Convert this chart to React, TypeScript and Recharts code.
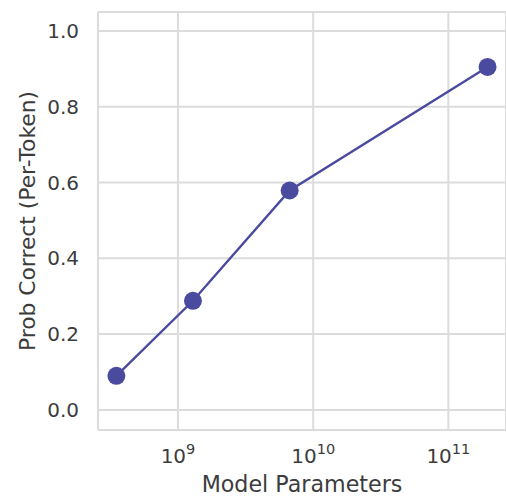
import React from 'react';
import { LineChart, Line, XAxis, YAxis, CartesianGrid, ReferenceLine } from 'recharts';

const modelParams = [3.5e8, 1.29e9, 6.7e9, 1.95e11];
const probCorrect = [0.09, 0.288, 0.579, 0.905];
const xTicks = [1e9, 1e10, 1e11];
const xTickExponents = ['9', '10', '11'];
const yTicks = [0, 0.2, 0.4, 0.6, 0.8, 1.0];

const data = modelParams.map((p, i) => ({ params: p, prob: probCorrect[i] }));

const TEXT = '#3c3c3c';
const GRID = '#dcdcdc';
const LINE = '#4a4a9f';
const FONT = 'DejaVu Sans, sans-serif';

const XTick = (props: any) => {
  const { x, y, payload, index } = props;
  const exp = xTickExponents[xTicks.indexOf(payload.value)] ?? xTickExponents[index];
  return (
    <text x={x} y={y + 33} textAnchor="middle" fill={TEXT} fontFamily={FONT} fontSize={20}>
      <tspan>10</tspan>
      <tspan dy={-9} fontSize={14.5}>{exp}</tspan>
    </text>
  );
};

const XLabel = (props: any) => {
  const { viewBox } = props;
  return (
    <text x={viewBox.x + viewBox.width / 2} y={viewBox.y + 62} textAnchor="middle" fill={TEXT} fontFamily={FONT} fontSize={22.2}>
      Model Parameters
    </text>
  );
};

const YLabel = (props: any) => {
  const { viewBox } = props;
  const cx = viewBox.x + 35;
  const cy = viewBox.y + viewBox.height / 2;
  return (
    <text x={cx} y={cy} transform={`rotate(-90, ${cx}, ${cy})`} textAnchor="middle" fill={TEXT} fontFamily={FONT} fontSize={21.8}>
      Prob Correct (Per-Token)
    </text>
  );
};

export default function App() {
  return (
    <div style={{ position: 'absolute', left: 0, top: 0, width: 506, height: 499, overflow: 'hidden', background: '#fff' }}>
      <LineChart width={506} height={499} data={data} margin={{ top: 12, right: 0, bottom: 0, left: 0 }}>
        <CartesianGrid stroke={GRID} strokeWidth={2} />
        <XAxis
          dataKey="params"
          type="number"
          scale="log"
          domain={[2.56e8, 2.67e11]}
          allowDataOverflow
          ticks={xTicks}
          tick={<XTick />}
          tickLine={false}
          tickSize={0}
          tickMargin={0}
          height={69}
          axisLine={{ stroke: GRID, strokeWidth: 2 }}
          label={<XLabel />}
          interval={0}
        />
        <YAxis
          type="number"
          domain={[-0.053, 1.05]}
          allowDataOverflow
          ticks={yTicks}
          tickFormatter={(v: number) => v.toFixed(1)}
          tick={{ fill: TEXT, fontFamily: FONT, fontSize: 20 }}
          tickLine={false}
          tickSize={0}
          tickMargin={19}
          width={98}
          axisLine={{ stroke: GRID, strokeWidth: 2 }}
          label={<YLabel />}
          interval={0}
        />
        <ReferenceLine y={1.05} stroke={GRID} strokeWidth={2} />
        <Line
          dataKey="prob"
          stroke={LINE}
          strokeWidth={2.4}
          dot={{ r: 9, fill: LINE, stroke: 'none' }}
          activeDot={false}
          isAnimationActive={false}
        />
      </LineChart>
    </div>
  );
}
